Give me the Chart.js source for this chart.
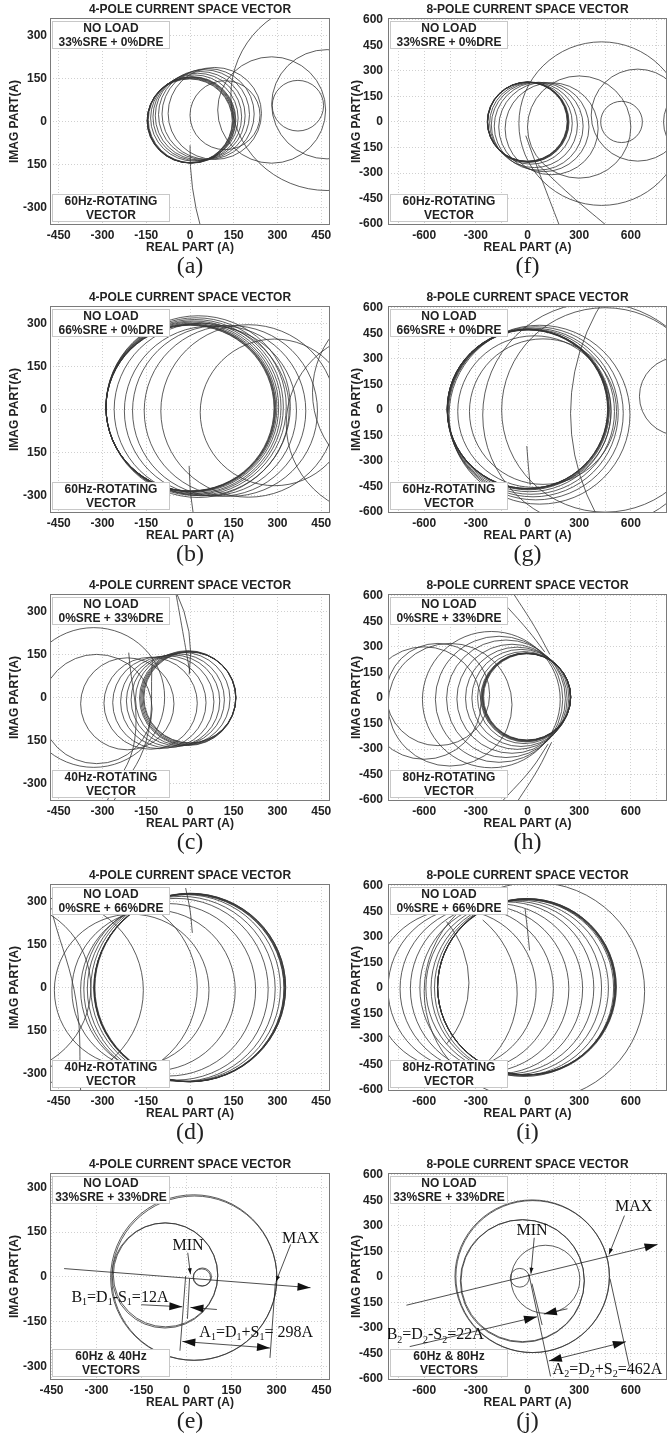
<!DOCTYPE html>
<html>
<head>
<meta charset="utf-8">
<script src="https://cdn.jsdelivr.net/npm/chart.js@4.4.1/dist/chart.umd.min.js"></script>
<style>
  html, body { margin: 0; padding: 0; background: #fff; }
  body { position: relative; width: 667px; height: 1435px; overflow: hidden; }
</style>
</head>
<body>
<script>
// ── Axis ticks ────────────────────────────────────────────────────
const xTicks4   = [-450, -300, -150, 0, 150, 300, 450];
const xLabels4  = ["-450", "-300", "-150", "0", "150", "300", "450"];
const yTicks4   = [300, 150, 0, -150, -300];
const yLabels4  = ["300", "150", "0", "150", "-300"];
const yLabels4e = ["300", "150", "0", "-150", "-300"];
const xTicks8   = [-750, -600, -450, -300, -150, 0, 150, 300, 450, 600, 750];
const xLabels8  = ["", "-600", "", "-300", "", "0", "", "300", "", "600", ""];
const yTicks8   = [600, 450, 300, 150, 0, -150, -300, -450, -600];
const yLabels8  = ["600", "450", "300", "150", "0", "150", "-300", "-450", "-600"];

// ── Traces: [centre re, centre im, radius, (start°, end°)] in amps ──
const circA = [
  [0, 3, 147], [-1, 2, 146], [2, 4, 148], [3, 5, 149], [5, 5, 150], [7, 6, 150],
  [15, 12, 150], [25, 16, 152], [35, 20, 154], [48, 24, 156], [62, 26, 158], [85, 28, 160],
  [120, 22, 120], [280, 40, 185], [370, 55, 88], [470, 60, 190], [470, 90, 330],
  [1000, -100, 1000, 179, 196]
];
const circB = [
  [0, 5, 288], [1, 5, 289], [2, 6, 290], [3, 6, 291], [5, 7, 293], [8, 8, 296],
  [12, 8, 300], [16, 9, 304], [21, 10, 309], [28, 10, 316],
  [40, 0, 300], [70, -5, 295], [100, -5, 297], [140, -5, 297], [200, -5, 300], [290, -10, 255],
  [750, 60, 330], [650, -50, 320], [1000, -196, 1003, 180, 190]
];
const circC = [
  [0, 0, 158], [-2, 0, 159], [-4, -1, 161], [-6, -2, 163], [-8, -2, 165],
  [-25, -5, 162], [-42, -8, 160], [-58, -12, 160], [-78, -15, 160], [-105, -18, 160],
  [-135, -20, 160], [-215, -22, 160],
  [-330, 0, 243], [-320, -40, 190], [-500, 150, 502, -8, 26]
];
const circD = [
  [0, 0, 328], [-1, 0, 327], [-2, -1, 327], [-3, -1, 326], [1, 0, 327], [-4, -2, 326],
  [-15, -2, 325], [-30, -5, 322], [-48, -6, 316], [-75, -8, 300], [-125, -10, 280],
  [-200, -10, 265], [-300, 0, 325], [-480, -10, 320], [-640, 0, 300]
];
const circE = [[24, -2, 277], [26, -4, 275], [-72, 5, 176], [-70, 7, 174], [53, 0, 30], [51, -2, 29]];
const circF = [
  [0, 0, 233], [2, 0, 234], [-2, 1, 232], [3, -2, 235], [1, 2, 233], [5, -1, 236],
  [20, -8, 240], [40, -18, 250], [65, -25, 258], [95, -30, 262], [140, -40, 270],
  [430, -10, 480], [640, 40, 270], [300, -30, 300], [546, 0, 121], [1010, 0, 220]
];
const circG = [
  [0, 5, 466], [1, 5, 467], [-1, 4, 466], [3, 3, 469], [2, 6, 468], [5, 2, 471],
  [10, -5, 475], [20, -10, 485], [32, -15, 495], [48, -20, 508], [70, -28, 525],
  [40, -10, 445], [90, -10, 427], [400, -30, 660],
  [1500, -20, 1250], [880, 80, 230], [450, 0, 600]
];
const circH = [
  [-4, 6, 255], [-6, 5, 257], [-2, 6, 253], [-8, 4, 259], [-10, 3, 261], [-5, 7, 256],
  [-20, 2, 270], [-38, 0, 285], [-60, -2, 300], [-90, -5, 320], [-125, -5, 345],
  [-165, -8, 370], [-210, -10, 400],
  [-520, 20, 300], [-600, -30, 330], [-450, -40, 360]
];
const circI = [
  [-6, 6, 516], [-5, 6, 517], [-7, 5, 515], [-4, 7, 518], [-8, 4, 514], [-3, 5, 519],
  [-20, 0, 520], [-45, 0, 515], [-80, 0, 510], [-120, 0, 505], [-180, -5, 500],
  [-250, -5, 490], [-330, -5, 480], [-420, -10, 470],
  [-900, 30, 560, -40, 40], [-620, -30, 560, -50, 50], [40, -20, 640]
];
const circJ = [[27, 4, 448], [30, 2, 446], [-30, -24, 360], [-28, -22, 358], [104, -14, 200], [-45, -5, 55]];

// ── Open transient paths (re, im) ──────────────────────────────────
const pathsC = [
  [[-49, 366], [-25, 230], [0, 85]],
  [[-210, 156], [-190, -150], [-284, -359]],
  [[-129, 132], [-150, -150], [-261, -359]]
];
const pathsD = [
  [[-15, 346], [0, 270], [8, 190]],
  [[-470, 250], [-390, -50], [-375, -360]]
];
const pathsF = [
  [[-10, -81], [80, -330], [184, -605]],
  [[60, -250], [250, -430], [455, -605]]
];
const pathsG = [[[-4, -212], [5, -330], [16, -442]]];
const pathsH = [
  [[-150, 570], [0, 400], [100, 270]],
  [[-80, 610], [40, 420], [130, 255]],
  [[-150, -610], [20, -420], [120, -270]],
  [[-60, -610], [60, -420], [140, -260]]
];
const pathsI = [[[-14, 464], [0, 340], [12, 220]]];

// ── Annotations for (e) and (j) ────────────────────────────────────
const notesE = {
  arrows:  [[-408, 28, 413, -36, 1, 0], [-151, -93, -14, -100, 1, 0], [101, -109, 13, -102, 1, 0], [-14, -216, 278, -238, 1, 1]],
  lines:   [[-3, 3, -22, -247], [10, -5, 3, -140], [296, -19, 278, -271]],
  leaders: [[347, 109, 298, -16], [4, 81, 13, 9]],
  labels:  [["MAX", 380, 129], ["MIN", 5, 103], ["B_1=D_1-S_1=12A", -222, -69], ["A_1=D_1+S_1= 298A", 232, -186]]
};
const notesJ = {
  arrows:  [[-703, -166, 755, 191, 1, 0], [-684, -409, 55, -234, 1, 0], [232, -187, 95, -218, 1, 0], [124, -493, 571, -380, 1, 1]],
  lines:   [[8, 16, 134, -584], [26, -39, 85, -282], [479, -10, 591, -526]],
  leaders: [[563, 360, 473, 132], [39, 230, 20, 19]],
  labels:  [["MAX", 617, 409], ["MIN", 26, 269], ["B_2=D_2-S_2=22A", -536, -341], ["A_2=D_2+S_2=462A", 464, -545]]
};

const ROW_TOP = [0, 288, 576, 866, 1155];
const LINE = "#333";
const SANS = "'Liberation Sans', Arial, sans-serif";
const SERIF = "'Liberation Serif', 'Times New Roman', serif";

const panels = [
  { tag: "(a)", col: 0, row: 0, pole: 4, mix: "33%SRE + 0%DRE",  bot: ["60Hz-ROTATING", "VECTOR"], circles: circA, paths: [] },
  { tag: "(b)", col: 0, row: 1, pole: 4, mix: "66%SRE + 0%DRE",  bot: ["60Hz-ROTATING", "VECTOR"], circles: circB, paths: [] },
  { tag: "(c)", col: 0, row: 2, pole: 4, mix: "0%SRE + 33%DRE",  bot: ["40Hz-ROTATING", "VECTOR"], circles: circC, paths: pathsC },
  { tag: "(d)", col: 0, row: 3, pole: 4, mix: "0%SRE + 66%DRE",  bot: ["40Hz-ROTATING", "VECTOR"], circles: circD, paths: pathsD },
  { tag: "(e)", col: 0, row: 4, pole: 4, mix: "33%SRE + 33%DRE", bot: ["60Hz & 40Hz", "VECTORS"],  circles: circE, paths: [], notes: notesE },
  { tag: "(f)", col: 1, row: 0, pole: 8, mix: "33%SRE + 0%DRE",  bot: ["60Hz-ROTATING", "VECTOR"], circles: circF, paths: pathsF },
  { tag: "(g)", col: 1, row: 1, pole: 8, mix: "66%SRE + 0%DRE",  bot: ["60Hz-ROTATING", "VECTOR"], circles: circG, paths: pathsG },
  { tag: "(h)", col: 1, row: 2, pole: 8, mix: "0%SRE + 33%DRE",  bot: ["80Hz-ROTATING", "VECTOR"], circles: circH, paths: pathsH },
  { tag: "(i)", col: 1, row: 3, pole: 8, mix: "0%SRE + 66%DRE",  bot: ["80Hz-ROTATING", "VECTOR"], circles: circI, paths: pathsI },
  { tag: "(j)", col: 1, row: 4, pole: 8, mix: "33%SRE + 33%DRE", bot: ["60Hz & 80Hz", "VECTORS"],  circles: circJ, paths: [], notes: notesJ }
];

panels.forEach(build);


// ── One panel ─────────────────────────────────────────────────────
function build(p) {
  const left = p.col === 0;
  const four = p.pole === 4;
  const w = left ? 335 : 329, h = 280;

  const cv = document.createElement("canvas");
  cv.width = w; cv.height = h;
  cv.style.cssText = `position:absolute;left:${left ? 0 : 338}px;top:${ROW_TOP[p.row]}px;width:${w}px;height:${h}px`;
  document.body.appendChild(cv);

  const isE = p.tag === "(e)";
  const xr = four ? (isE ? [-455, 478] : [-480, 480]) : [-810, 810];
  const yr = four ? (isE ? [-345, 348] : [-360, 360]) : [-605, 610];
  const xT = four ? xTicks4 : xTicks8;
  const xL = four ? xLabels4 : xLabels8;
  const yT = four ? yTicks4 : yTicks8;
  const yL = four ? (isE ? yLabels4e : yLabels4) : yLabels8;

  const tickFont = { family: SANS, size: 12, weight: "bold" };
  const noPad = s => { s.paddingLeft = 0; s.paddingRight = 0; s.paddingTop = 0; s.paddingBottom = 0; };

  new Chart(cv, {
    type: "scatter",
    data: {
      datasets: p.paths.map(pts => ({
        data: pts.map(([x, y]) => ({ x, y })),
        showLine: true, tension: 0.4, pointRadius: 0,
        borderColor: LINE, borderWidth: 0.8
      }))
    },
    options: {
      responsive: false, animation: false, events: [],
      layout: { padding: { top: 18, right: left ? 5 : 0, bottom: 0, left: 0 } },
      plugins: { legend: { display: false }, tooltip: { enabled: false } },
      scales: {
        x: {
          type: "linear", min: xr[0], max: xr[1],
          afterBuildTicks: s => { s.ticks = xT.map(v => ({ value: v })); },
          afterFit: s => { s.height = 55; noPad(s); },
          ticks: { callback: (v, i) => xL[i], autoSkip: false, maxRotation: 0, padding: 3, font: tickFont, color: "#222" },
          grid: { color: "#c4c4c4", lineWidth: 0.8, drawTicks: false },
          border: { display: false, dash: [1, 2] },
          title: { display: true, text: "REAL PART (A)", font: tickFont, color: "#222", padding: { top: 0, bottom: 24.8 } }
        },
        y: {
          type: "linear", min: yr[0], max: yr[1],
          afterBuildTicks: s => { s.ticks = yT.map(v => ({ value: v })); },
          afterFit: s => { s.width = 50; noPad(s); },
          ticks: { callback: (v, i) => yL[i], autoSkip: false, padding: left ? 3 : 5, font: tickFont, color: "#222" },
          grid: { color: "#c4c4c4", lineWidth: 0.8, drawTicks: false },
          border: { display: false, dash: [1, 2] },
          title: { display: true, text: "IMAG PART(A)", font: tickFont, color: "#222", padding: { top: left ? 7.8 : 11.8, bottom: 0 } }
        }
      }
    },
    plugins: [tracePlugin(p)]
  });
}


// ── Circles, boxes, titles, annotations ───────────────────────────
function tracePlugin(p) {
  return {
    id: "traces",
    beforeDatasetsDraw(chart) {
      const { ctx, chartArea: a, scales: { x, y } } = chart;
      ctx.save();
      ctx.beginPath(); ctx.rect(a.left, a.top, a.width, a.height); ctx.clip();
      ctx.strokeStyle = LINE; ctx.lineWidth = 0.8;
      for (const [cx, cy, r, a0 = 0, a1 = 360] of p.circles) {
        const px = x.getPixelForValue(cx), py = y.getPixelForValue(cy);
        const rx = Math.abs(x.getPixelForValue(cx + r) - px);
        const ry = Math.abs(y.getPixelForValue(cy + r) - py);
        ctx.beginPath();
        ctx.ellipse(px, py, rx, ry, 0, -a1 * Math.PI / 180, -a0 * Math.PI / 180);
        ctx.stroke();
      }
      ctx.restore();
    },
    afterDatasetsDraw(chart) {
      const { ctx, chartArea: a, scales: { x, y } } = chart;
      ctx.save();

      // frame
      ctx.strokeStyle = "#7a7a7a"; ctx.lineWidth = 1;
      ctx.strokeRect(a.left + 0.5, a.top + 0.5, a.width - 1, a.height - 1);

      // info boxes
      textBox(ctx, a.left + 2, a.top + 3, 118, 28, ["NO LOAD", p.mix]);
      textBox(ctx, a.left + 2, a.bottom - 31, 118, 28, p.bot);

      // title and caption
      ctx.fillStyle = "#222";
      ctx.textAlign = "center"; ctx.textBaseline = "middle";
      ctx.font = `bold 12px ${SANS}`;
      ctx.fillText(`${p.pole}-POLE CURRENT SPACE VECTOR`, (a.left + a.right) / 2, a.top - 8);
      ctx.font = `24px ${SERIF}`;
      ctx.fillText(p.tag, (a.left + a.right) / 2, a.bottom + 42);

      if (p.notes) drawNotes(ctx, a, x, y, p.notes);
      ctx.restore();
    }
  };
}

function textBox(ctx, bx, by, bw, bh, lines) {
  ctx.fillStyle = "#fff";
  ctx.fillRect(bx, by, bw, bh);
  ctx.strokeStyle = "#c8c8c8"; ctx.lineWidth = 1;
  ctx.strokeRect(bx + 0.5, by + 0.5, bw - 1, bh - 1);
  ctx.fillStyle = "#222";
  ctx.font = `bold 12px ${SANS}`;
  ctx.textAlign = "center"; ctx.textBaseline = "middle";
  ctx.fillText(lines[0], bx + bw / 2, by + 7.5);
  ctx.fillText(lines[1], bx + bw / 2, by + 21.5);
}

function drawNotes(ctx, a, x, y, n) {
  const X = v => x.getPixelForValue(v), Y = v => y.getPixelForValue(v);
  ctx.save();
  ctx.beginPath(); ctx.rect(a.left, a.top, a.width, a.height); ctx.clip();
  ctx.strokeStyle = "#222"; ctx.fillStyle = "#111"; ctx.lineWidth = 0.8;

  for (const [x0, y0, x1, y1] of n.lines) seg(ctx, X(x0), Y(y0), X(x1), Y(y1));
  for (const [x0, y0, x1, y1, e, s] of n.arrows) {
    seg(ctx, X(x0), Y(y0), X(x1), Y(y1));
    if (e) head(ctx, X(x0), Y(y0), X(x1), Y(y1), 13, 4);
    if (s) head(ctx, X(x1), Y(y1), X(x0), Y(y0), 13, 4);
  }
  for (const [x0, y0, x1, y1] of n.leaders) {
    seg(ctx, X(x0), Y(y0), X(x1), Y(y1));
    head(ctx, X(x0), Y(y0), X(x1), Y(y1), 6, 2);
  }
  for (const [t, lx, ly] of n.labels) subText(ctx, t, X(lx), Y(ly));
  ctx.restore();
}

function seg(ctx, x0, y0, x1, y1) {
  ctx.beginPath(); ctx.moveTo(x0, y0); ctx.lineTo(x1, y1); ctx.stroke();
}

function head(ctx, x0, y0, x1, y1, len, wid) {
  const t = Math.atan2(y1 - y0, x1 - x0);
  const c = Math.cos(t), s = Math.sin(t);
  ctx.beginPath();
  ctx.moveTo(x1, y1);
  ctx.lineTo(x1 - len * c + wid * s, y1 - len * s - wid * c);
  ctx.lineTo(x1 - len * c - wid * s, y1 - len * s + wid * c);
  ctx.closePath(); ctx.fill();
}

// "_" marks the next character as a subscript
function subText(ctx, str, cx, cy) {
  const parts = [];
  for (let i = 0; i < str.length; i++) {
    if (str[i] === "_") { parts.push([str[i + 1], true]); i++; }
    else parts.push([str[i], false]);
  }
  const big = `16px ${SERIF}`, small = `10px ${SERIF}`;
  let total = 0;
  for (const [ch, sub] of parts) { ctx.font = sub ? small : big; total += ctx.measureText(ch).width; }
  let px = cx - total / 2;
  ctx.textAlign = "left"; ctx.textBaseline = "middle"; ctx.fillStyle = "#111";
  for (const [ch, sub] of parts) {
    ctx.font = sub ? small : big;
    ctx.fillText(ch, px, sub ? cy + 5 : cy);
    px += ctx.measureText(ch).width;
  }
}
</script>
</body>
</html>
